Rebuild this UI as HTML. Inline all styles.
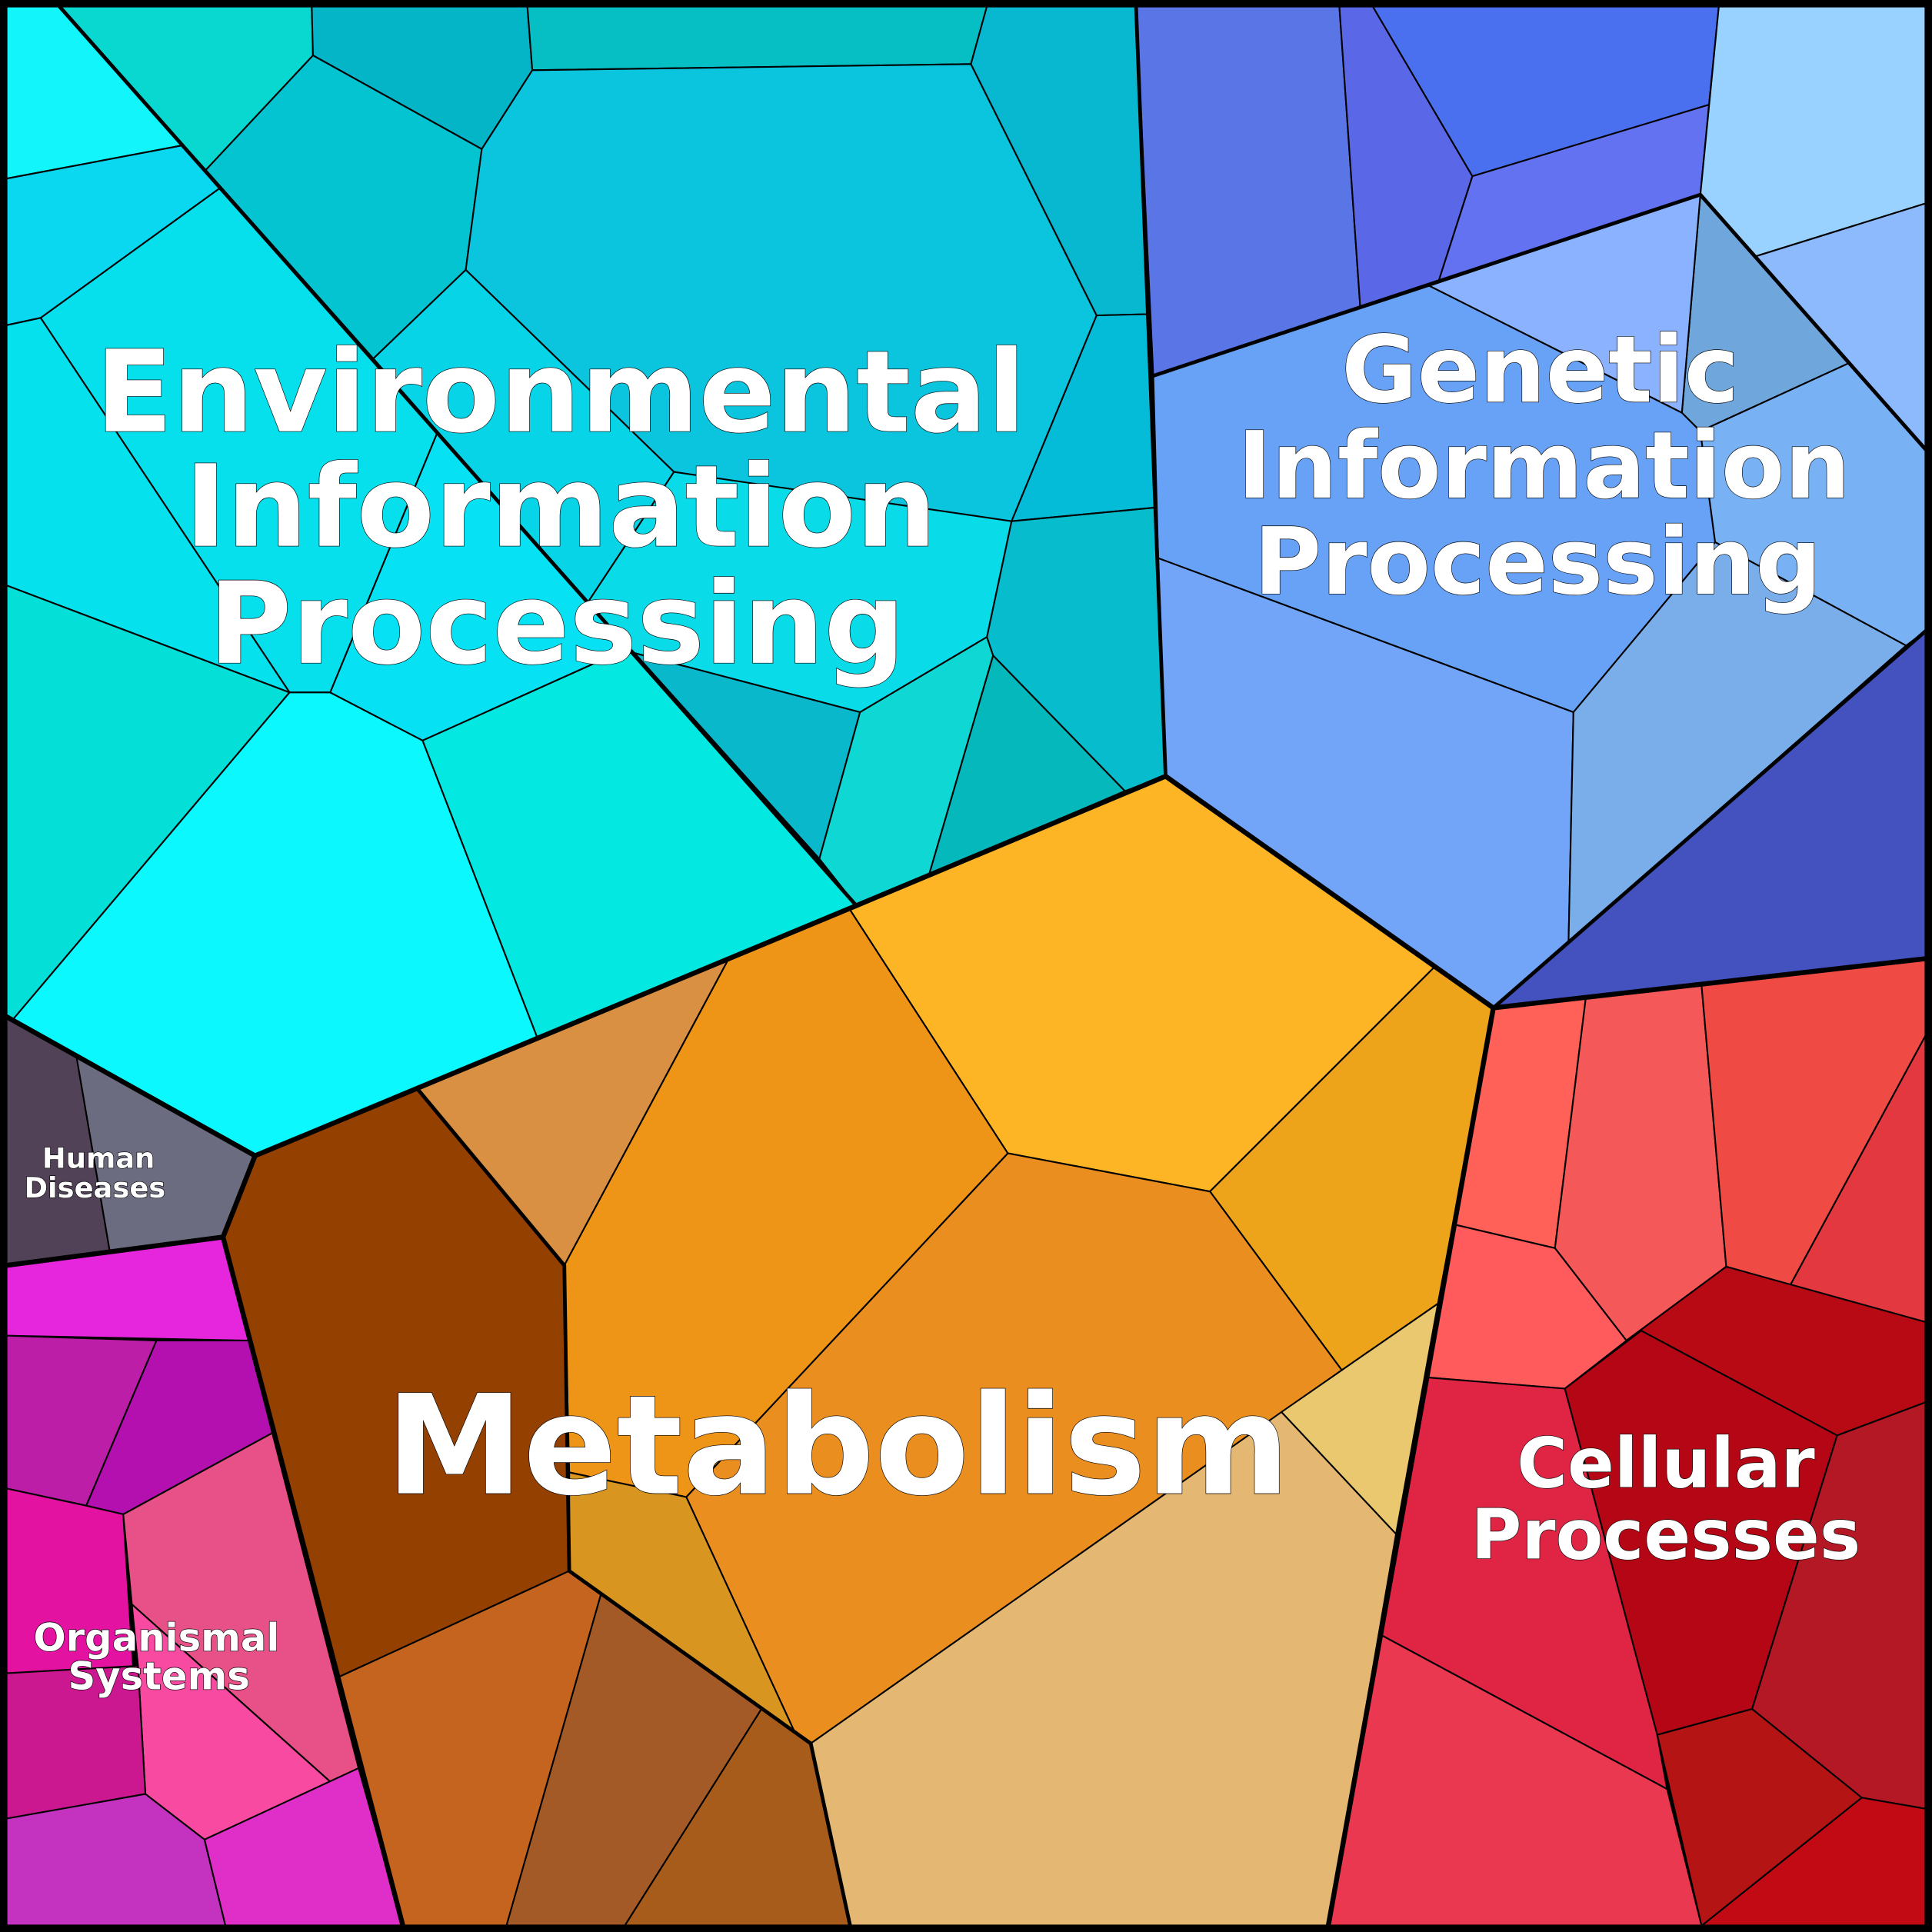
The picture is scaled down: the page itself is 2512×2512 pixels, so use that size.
<!DOCTYPE html>
<html><head><meta charset="utf-8"><style>
html,body{margin:0;padding:0;background:#000}
svg{display:block}
text{font-family:"DejaVu Sans","Liberation Sans",sans-serif;font-weight:bold;fill:#fff;stroke:#000;stroke-width:0.8;text-anchor:middle;paint-order:stroke}
</style></head><body>
<svg width="2512" height="2512" viewBox="0 0 1568 1568" xmlns="http://www.w3.org/2000/svg">
<g stroke="#000" stroke-width="1.3" stroke-linejoin="round">
<!-- Environmental -->
<polygon fill="#12f5fb" points="5,5 48,5 148,118 5,145"/>
<polygon fill="#08d8d0" points="48,5 253,5 254,45 167,138 148,118"/>
<polygon fill="#0ad8f0" points="5,145 148,118 178,153 33,258 5,264"/>
<polygon fill="#04b5c8" points="253,5 428,5 432,57 391,121 254,45"/>
<polygon fill="#05bfc4" points="428,5 801,5 788,52 432,57"/>
<polygon fill="#05c4d2" points="254,45 391,121 378,219 303,291 167,138"/>
<polygon fill="#0bc5de" points="432,57 788,52 890,256 821,423 690,410 547,383 378,219 391,121"/>
<polygon fill="#07b8d0" points="788,52 801,5 922,5 931,255 890,256"/>
<polygon fill="#05e0ec" points="33,258 178,153 355,351 268,562 235,562"/>
<polygon fill="#05e2ee" points="5,264 33,258 235,562 5,475"/>
<polygon fill="#04dfd8" points="5,475 235,562 10,828 5,825"/>
<polygon fill="#0af8fe" points="235,562 268,562 343,601 436,842 207,938 10,828"/>
<polygon fill="#06e2f3" points="268,562 355,351 510,526 343,601"/>
<polygon fill="#03e8e0" points="343,601 510,526 695,735 436,842"/>
<polygon fill="#08d4e8" points="303,291 378,219 547,383 477,489"/>
<polygon fill="#0adbe8" points="477,489 547,383 821,423 801,517 698,578 515,530"/>
<polygon fill="#0ab8cc" points="515,530 698,578 665,697"/>
<polygon fill="#0fd8d4" points="698,578 801,517 806,532 754,710 695,735 665,697"/>
<polygon fill="#04b8bc" points="806,532 913,642 754,710"/>
<polygon fill="#04bcd8" points="821,423 890,256 931,255 937,412"/>
<polygon fill="#07bccc" points="821,423 937,412 946,630 913,642 806,532 801,517"/>
<!-- Genetic -->
<polygon fill="#5a75e6" points="922,5 1087,5 1104,250 936,305"/>
<polygon fill="#5a68e8" points="1087,5 1114,5 1195,143 1167,230 1104,250"/>
<polygon fill="#4a70f0" points="1114,5 1395,5 1387,85 1195,143"/>
<polygon fill="#6372f0" points="1195,143 1387,85 1380,158 1167,230"/>
<polygon fill="#99d2fe" points="1395,5 1563,5 1563,165 1425,208 1380,158"/>
<polygon fill="#8cbafc" points="1425,208 1563,165 1563,365 1500,295"/>
<polygon fill="#6fa6dc" points="1380,158 1425,208 1500,295 1380,350 1365,335"/>
<polygon fill="#8ab2fe" points="1160,232 1380,158 1365,335"/>
<polygon fill="#67a2f6" points="936,305 1160,232 1365,335 1380,350 1392,440 1277,578 940,453"/>
<polygon fill="#78b2f4" points="1380,350 1500,295 1563,365 1563,512 1547,524 1392,440"/>
<polygon fill="#72a4f8" points="940,453 1277,578 1273,765 1212,818 946,630"/>
<polygon fill="#7aaeea" points="1277,578 1392,440 1547,524 1273,765"/>
<polygon fill="#4452c0" points="1547,524 1563,512 1563,778 1212,818 1273,765"/>
<!-- Cellular -->
<polygon fill="#ff6058" points="1212,818 1287,810 1262,1013 1181,994"/>
<polygon fill="#f55858" points="1287,810 1381,800 1401,1028 1320,1088 1262,1013"/>
<polygon fill="#f04a44" points="1381,800 1563,778 1563,840 1453,1043 1401,1028"/>
<polygon fill="#e43840" points="1563,840 1563,1073 1453,1043"/>
<polygon fill="#ff5a5c" points="1181,994 1262,1013 1320,1088 1270,1127 1159,1118"/>
<polygon fill="#b80a14" points="1320,1088 1401,1028 1563,1073 1563,1138 1491,1165 1332,1080"/>
<polygon fill="#b40614" points="1270,1127 1332,1080 1491,1165 1422,1387 1345,1408"/>
<polygon fill="#e02444" points="1159,1118 1270,1127 1345,1408 1353,1452 1121,1327"/>
<polygon fill="#ea3850" points="1121,1327 1353,1452 1381,1563 1078,1563"/>
<polygon fill="#b41824" points="1491,1165 1563,1138 1563,1468 1511,1459 1422,1387"/>
<polygon fill="#b41414" points="1345,1408 1422,1387 1511,1459 1381,1563"/>
<polygon fill="#c20a14" points="1511,1459 1563,1468 1563,1563 1381,1563"/>
<!-- Metabolism -->
<polygon fill="#934000" points="207,938 339,884 458,1027 462,1275 275,1361 181,1004"/>
<polygon fill="#da9042" points="339,884 592,777 458,1027"/>
<polygon fill="#ee9416" points="592,777 689,737 818,936 557,1215 462,1195 458,1027"/>
<polygon fill="#fdb526" points="689,737 946,630 1164,785 982,967 818,936"/>
<polygon fill="#eea41a" points="1164,785 1212,818 1167,1058 1089,1112 982,967"/>
<polygon fill="#ea8e20" points="818,936 982,967 1089,1112 658,1415 646,1408 557,1215"/>
<polygon fill="#eac870" points="1089,1112 1167,1058 1133,1245 1040,1146"/>
<polygon fill="#e4b872" points="658,1415 1040,1146 1133,1245 1078,1563 690,1563"/>
<polygon fill="#d89620" points="462,1195 557,1215 646,1408 618,1387 488,1293 462,1275"/>
<polygon fill="#c4641e" points="275,1361 462,1275 488,1293 411,1563 327,1563"/>
<polygon fill="#a45a26" points="488,1293 618,1387 507,1563 411,1563"/>
<polygon fill="#a85c1c" points="618,1387 658,1415 690,1563 507,1563"/>
<!-- Human diseases -->
<polygon fill="#524258" points="5,825 62,857 89,1015 5,1027"/>
<polygon fill="#6c6c80" points="62,857 207,938 181,1004 89,1015"/>
<!-- Organismal -->
<polygon fill="#e626dc" points="5,1027 181,1004 202,1088 5,1084"/>
<polygon fill="#bc1ea8" points="5,1084 127,1088 70,1222 5,1208"/>
<polygon fill="#b410b0" points="127,1088 202,1088 221,1163 100,1229 70,1222"/>
<polygon fill="#e412a0" points="5,1208 70,1222 100,1229 108,1353 5,1358"/>
<polygon fill="#e85088" points="100,1229 221,1163 291,1435 268,1446 107,1302"/>
<polygon fill="#f84aa0" points="107,1302 268,1446 166,1493 118,1456 112,1352"/>
<polygon fill="#cc1890" points="5,1358 112,1352 118,1456 5,1476"/>
<polygon fill="#c432c0" points="5,1476 118,1456 166,1493 183,1563 5,1563"/>
<polygon fill="#e02ec8" points="166,1493 291,1435 327,1563 183,1563"/>
</g>
<g stroke="#000" fill="none" stroke-linejoin="round">
<polyline stroke-width="3" points="48,5 695,735"/>
<polyline stroke-width="3" points="936,305 1380,158 1563,365"/>
<polyline stroke-width="3" points="1212,818 1563,512"/>
<polyline stroke-width="3" points="922,5 946,630"/>
<polyline stroke-width="4" points="5,825 207,938 695,735 946,630 1212,818 1563,778"/>
<polyline stroke-width="4" points="1212,818 1078,1563"/>
<polyline stroke-width="4" points="207,938 181,1004 327,1563"/>
<polyline stroke-width="4" points="5,1027 181,1004"/>
<polyline stroke-width="3" points="339,884 458,1027 462,1275 658,1415 690,1563"/>
<rect x="3" y="3" width="1562" height="1562" stroke-width="6"/>
</g>
<text font-size="92" x="455" y="350">Environmental</text>
<text font-size="92" x="455" y="443">Information</text>
<text font-size="92" x="452" y="538">Processing</text>
<text font-size="75" x="1250" y="326">Genetic</text>
<text font-size="75" x="1253" y="404">Information</text>
<text font-size="75" x="1248" y="482">Processing</text>
<text font-size="112" x="680" y="1212">Metabolism</text>
<text font-size="56" x="1352" y="1207">Cellular</text>
<text font-size="56" x="1352" y="1265">Processes</text>
<text font-size="23" x="80" y="948">Human</text>
<text font-size="23" x="77" y="972">Diseases</text>
<text font-size="31" x="127" y="1340">Organismal</text>
<text font-size="31" x="129" y="1371">Systems</text>
</svg>
</body></html>
